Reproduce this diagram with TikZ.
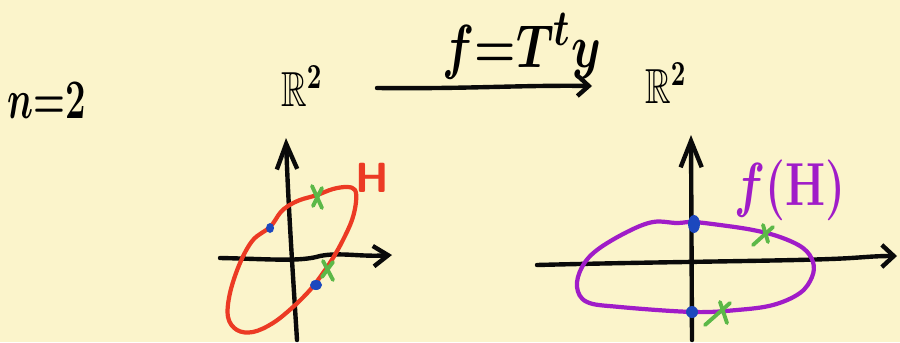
\documentclass[tikz,border=0pt]{standalone}
\usepackage{amssymb}
\usetikzlibrary{arrows.meta}
\definecolor{paper}{RGB}{251,244,203}
\definecolor{inkc}{RGB}{10,10,10}
\definecolor{hred}{RGB}{236,58,36}
\definecolor{hpurple}{RGB}{160,28,200}
\definecolor{hblue}{RGB}{28,72,190}
\definecolor{hgreen}{RGB}{92,184,72}
\tikzset{
  ink/.style={draw=inkc, line width=1.25pt},
  curvered/.style={draw=hred, line width=1.2pt},
  curvepurple/.style={draw=hpurple, line width=1.2pt},
  mark green/.style={draw=hgreen, line width=1.1pt},
  dotblue/.style={fill=hblue},
  lab/.style={inner sep=0pt}
}
\begin{document}
\begin{tikzpicture}[x=0.01cm,y=-0.01cm,line cap=round,line join=round]
\fill[paper] (0,0) rectangle (900,342);
\useasboundingbox (0,0) rectangle (900,342);

% texts
\node[lab] (n) at (47,101) {\fontsize{14}{16}\selectfont\scalebox{0.72}[1.1]{\boldmath$n{=}2$}};
\node[lab] (RL) at (302,86) {\fontsize{14}{16}\selectfont\scalebox{0.72}[1]{\boldmath$\mathbb{R}^2$}};
\node[lab] (RR) at (666,83) {\fontsize{14}{16}\selectfont\scalebox{0.72}[1]{\boldmath$\mathbb{R}^2$}};
\node[lab] (map) at (522,46) {\fontsize{19}{22}\selectfont\scalebox{0.78}[1]{\boldmath$f{=}T^{t}y$}};
\node[lab, text=hred] (H) at (372,178) {\fontsize{12}{14}\selectfont\sffamily\bfseries H};
\node[lab, text=hpurple] (fH) at (790,190) {\fontsize{18}{20}\selectfont\scalebox{0.75}[1]{\boldmath$f(\mathbf{H})$}};

% top arrow
\coordinate (a1) at (377,88);
\coordinate (a2) at (592,86);
\draw[ink, -{Straight Barb[length=3.2pt,width=5.8pt]}] (a1) .. controls (470,89) and (520,85) .. (a2);

% left axes
\coordinate (lv0) at (297,340);
\coordinate (lv1) at (286,138);
\coordinate (lh0) at (220,258);
\coordinate (lh1) at (392,255);
\draw[ink, -{Straight Barb[length=7.2pt,width=5.8pt]}] (lv0) .. controls (292,260) and (288,200) .. (lv1);
\draw[ink, -{Straight Barb[length=4.2pt,width=5.8pt]}] (lh0) .. controls (270,259) and (300,262) .. (320,256) .. controls (340,252) and (360,257) .. (lh1);

% red curve H
\draw[curvered] plot[smooth cycle, tension=0.6] coordinates {
 (288,206) (300,200) (317,195) (333,189) (347,187) (355,190) (356,202)
 (352,220) (343,240) (333,258) (323,273) (310,290) (293,307) (273,323)
 (253,332) (237,330) (228,317) (230,293) (240,263) (253,240) (270,227) (280,213)};

% blue dots left
\fill[dotblue] (270,228) ellipse [x radius=4, y radius=5];
\fill[dotblue] (316,285) ellipse [x radius=6, y radius=5];

% green marks left
\draw[mark green] (312,186) -- (322,208);
\draw[mark green] (322,188) -- (313,206);
\draw[mark green] (323,261) -- (333,280);
\draw[mark green] (333,262) -- (322,277);

% right axes
\coordinate (rv0) at (692,340);
\coordinate (rv1) at (691,135);
\coordinate (rh0) at (537,265);
\coordinate (rh1) at (897,256);
\draw[ink, -{Straight Barb[length=7.5pt,width=6pt]}] (rv0) -- (rv1);
\draw[ink, -{Straight Barb[length=3.4pt,width=6.3pt]}] (rh0) .. controls (650,262) and (780,261) .. (830,259) .. controls (860,258) and (870,256) .. (rh1);

% purple curve f(H)
\draw[curvepurple] plot[smooth cycle, tension=0.6] coordinates {
 (677,223) (693,222) (720,225) (753,230) (780,237) (803,248) (813,262)
 (812,277) (800,293) (773,305) (737,310) (693,312) (620,307) (587,302)
 (577,287) (582,267) (597,250) (627,232) (653,222)};

% blue dots right
\fill[dotblue] (694,224) ellipse [x radius=6, y radius=9];
\fill[dotblue] (692,312) ellipse [x radius=6, y radius=6];

% green marks right
\draw[mark green] (753,245) -- (773,227);
\draw[mark green] (763,225) -- (768,242);
\draw[mark green] (705,325) -- (730,303);
\draw[mark green] (720,302) -- (727,323);
\end{tikzpicture}
\end{document}
